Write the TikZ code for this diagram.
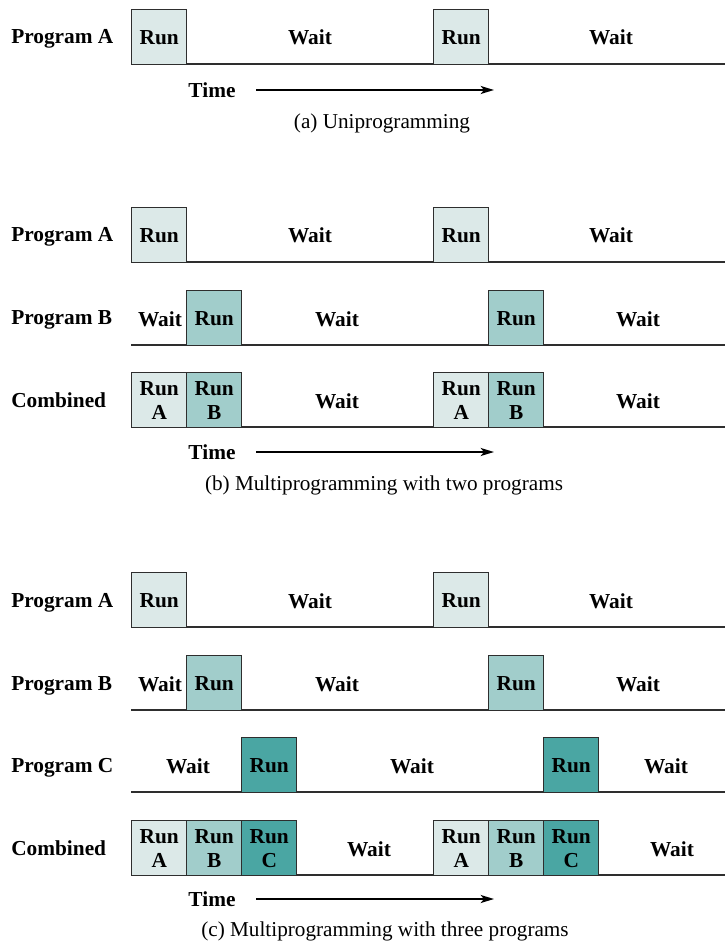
\documentclass[tikz,border=0pt]{standalone}
\usepackage{fontspec}
\setmainfont{Liberation Serif}
\usetikzlibrary{arrows.meta}

\definecolor{runlight}{HTML}{DCE9E8}
\definecolor{runmid}{HTML}{A1CDCB}
\definecolor{rundark}{HTML}{4AA6A3}
\definecolor{boxline}{HTML}{2E2E2E}

\begin{document}
\begin{tikzpicture}[x=0.75pt, y=-0.75pt, >={Stealth[length=10pt,width=6pt,inset=2.5pt]},
    font=\fontsize{16}{18}\selectfont\bfseries,
    box/.style={draw=boxline, line width=1.1pt, minimum width=41.25pt, minimum height=41.25pt,
        inner sep=0pt, anchor=north west, align=center},
    runa/.style={box, fill=runlight},
    runb/.style={box, fill=runmid},
    runc/.style={box, fill=rundark},
    prog/.style={anchor=base west, inner sep=0pt},
    wait/.style={anchor=base},
    base/.style={line width=1.2pt, draw=boxline},
    timearrow/.style={->, line width=1.3pt},
    caption/.style={font=\fontsize{15.9}{18}\selectfont\normalfont}]

    \useasboundingbox (0,0) rectangle (725,944);

    % (a) uniprogramming
    \coordinate (aL) at (131,64); \coordinate (aR) at (725,64);
    \draw[base] (aL) -- (aR);
    \node[prog] (aProgA) at (11,44) {Program A};
    \node[runa] (aRunA1) at (131,9) {Run};
    \node[runa] (aRunA2) at (433,9) {Run};
    \node[wait] (aWaitA1) at (310,45) {Wait};
    \node[wait] (aWaitA2) at (611,45) {Wait};

    \node (aTime) at (212,90) {Time};
    \coordinate (aTimeEnd) at (494,90);
    \draw[timearrow] ([xshift=12pt]aTime.east) -- (aTimeEnd);
    \node[caption] (aCap) at (382,123) {(a) Uniprogramming};

    % (b) two programs
    \coordinate (bAL) at (131,262); \coordinate (bAR) at (725,262);
    \coordinate (bBL) at (131,345); \coordinate (bBR) at (725,345);
    \coordinate (bCL) at (131,427); \coordinate (bCR) at (725,427);
    \draw[base] (bAL) -- (bAR);
    \draw[base] (bBL) -- (bBR);
    \draw[base] (bCL) -- (bCR);

    \node[prog] (bProgA) at (11,242) {Program A};
    \node[runa] (bRunA1) at (131,207) {Run};
    \node[runa] (bRunA2) at (433,207) {Run};
    \node[wait] (bWaitA1) at (310,243) {Wait};
    \node[wait] (bWaitA2) at (611,243) {Wait};

    \node[prog] (bProgB) at (11,325) {Program B};
    \node[runb] (bRunB1) at (186,290) {Run};
    \node[runb] (bRunB2) at (488,290) {Run};
    \node[wait] (bWaitB0) at (160,326) {Wait};
    \node[wait] (bWaitB1) at (337,326) {Wait};
    \node[wait] (bWaitB2) at (638,326) {Wait};

    \node[prog] (bComb) at (11,407) {Combined};
    \node[runa] (bCombA1) at (131,372) {Run\\A};
    \node[runb] (bCombB1) at (186,372) {Run\\B};
    \node[runa] (bCombA2) at (433,372) {Run\\A};
    \node[runb] (bCombB2) at (488,372) {Run\\B};
    \node[wait] (bWaitC1) at (337,408) {Wait};
    \node[wait] (bWaitC2) at (638,408) {Wait};

    \node (bTime) at (212,452) {Time};
    \coordinate (bTimeEnd) at (494,452);
    \draw[timearrow] ([xshift=12pt]bTime.east) -- (bTimeEnd);
    \node[caption] (bCap) at (384,485) {(b) Multiprogramming with two programs};

    % (c) three programs
    \coordinate (cAL) at (131,627); \coordinate (cAR) at (725,627);
    \coordinate (cBL) at (131,710); \coordinate (cBR) at (725,710);
    \coordinate (cCL) at (131,792); \coordinate (cCR) at (725,792);
    \coordinate (cDL) at (131,875); \coordinate (cDR) at (725,875);
    \draw[base] (cAL) -- (cAR);
    \draw[base] (cBL) -- (cBR);
    \draw[base] (cCL) -- (cCR);
    \draw[base] (cDL) -- (cDR);

    \node[prog] (cProgA) at (11,607) {Program A};
    \node[runa] (cRunA1) at (131,572) {Run};
    \node[runa] (cRunA2) at (433,572) {Run};
    \node[wait] (cWaitA1) at (310,608) {Wait};
    \node[wait] (cWaitA2) at (611,608) {Wait};

    \node[prog] (cProgB) at (11,690) {Program B};
    \node[runb] (cRunB1) at (186,655) {Run};
    \node[runb] (cRunB2) at (488,655) {Run};
    \node[wait] (cWaitB0) at (160,691) {Wait};
    \node[wait] (cWaitB1) at (337,691) {Wait};
    \node[wait] (cWaitB2) at (638,691) {Wait};

    \node[prog] (cProgC) at (11,772) {Program C};
    \node[runc] (cRunC1) at (241,737) {Run};
    \node[runc] (cRunC2) at (543,737) {Run};
    \node[wait] (cWaitC0) at (188,773) {Wait};
    \node[wait] (cWaitC1) at (412,773) {Wait};
    \node[wait] (cWaitC2) at (666,773) {Wait};

    \node[prog] (cComb) at (11,855) {Combined};
    \node[runa] (cCombA1) at (131,820) {Run\\A};
    \node[runb] (cCombB1) at (186,820) {Run\\B};
    \node[runc] (cCombC1) at (241,820) {Run\\C};
    \node[runa] (cCombA2) at (433,820) {Run\\A};
    \node[runb] (cCombB2) at (488,820) {Run\\B};
    \node[runc] (cCombC2) at (543,820) {Run\\C};
    \node[wait] (cWaitD1) at (369,856) {Wait};
    \node[wait] (cWaitD2) at (672,856) {Wait};

    \node (cTime) at (212,899) {Time};
    \coordinate (cTimeEnd) at (494,899);
    \draw[timearrow] ([xshift=12pt]cTime.east) -- (cTimeEnd);
    \node[caption] (cCap) at (385,931) {(c) Multiprogramming with three programs};
\end{tikzpicture}
\end{document}
